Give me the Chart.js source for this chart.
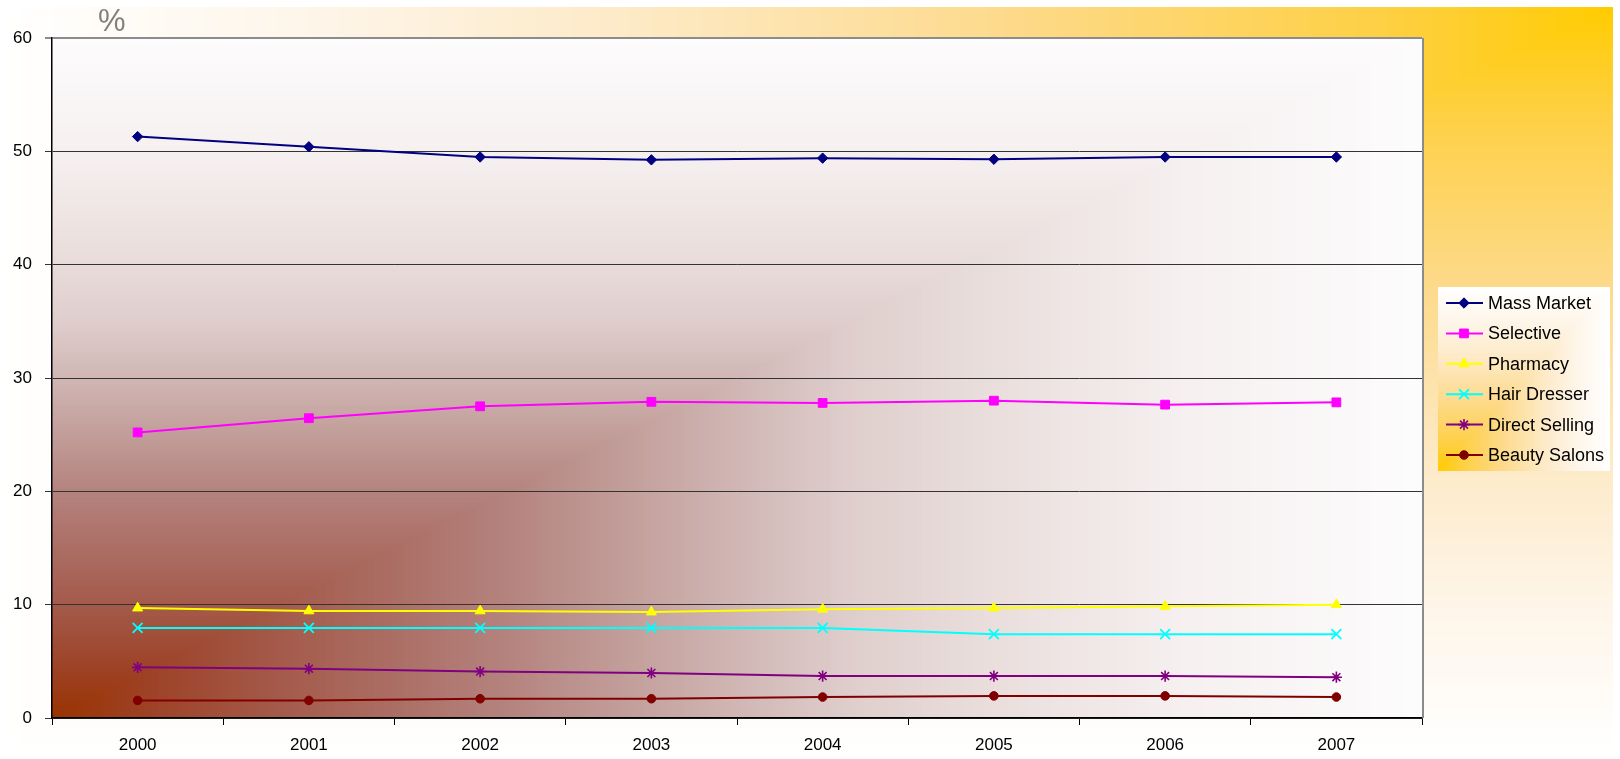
<!DOCTYPE html>
<html>
<head>
<meta charset="utf-8">
<script src="https://cdn.jsdelivr.net/npm/chart.js@4.4.0/dist/chart.umd.min.js"></script>
<style>
  html, body { margin: 0; padding: 0; background: #fff; }
  #wrap { width: 1620px; height: 759px; }
</style>
</head>
<body>
<div id="wrap"><canvas id="chart" width="1620" height="759"></canvas></div>
<script>
// Years (X axis)
const years = ["2000", "2001", "2002", "2003", "2004", "2005", "2006", "2007"];

// Share by distribution channel (%)
const massMarket    = [51.3, 50.4, 49.5, 49.25, 49.4, 49.3, 49.5, 49.5];
const selective     = [25.2, 26.45, 27.5, 27.9, 27.8, 28.0, 27.65, 27.85];
const pharmacy      = [9.7, 9.45, 9.45, 9.35, 9.6, 9.7, 9.85, 10.0];
const hairDresser   = [7.95, 7.95, 7.95, 7.95, 7.95, 7.4, 7.4, 7.4];
const directSelling = [4.47, 4.35, 4.1, 3.97, 3.7, 3.7, 3.7, 3.6];
const beautySalons  = [1.55, 1.55, 1.7, 1.7, 1.85, 1.95, 1.95, 1.85];

const seriesNames = ["Mass Market", "Selective", "Pharmacy", "Hair Dresser", "Direct Selling", "Beauty Salons"];
const yTicks = [0, 10, 20, 30, 40, 50, 60];

const FONT = '"Liberation Sans", Arial, sans-serif';

// colour stops for the "from corner" fills
const plotStops = [
  [0, [153, 51, 0]], [0.08, [158, 68, 42]], [0.165, [164, 90, 74]], [0.25, [171, 110, 100]],
  [0.33, [180, 130, 125]], [0.42, [194, 158, 154]], [0.5, [208, 182, 180]], [0.58, [222, 205, 203]],
  [0.67, [232, 220, 218]], [0.83, [246, 240, 240]], [1, [253, 252, 253]]
];
const outerStops = [
  [0, [255, 204, 0]], [0.15, [254, 208, 70]], [0.38, [253, 218, 140]],
  [0.62, [253, 234, 200]], [0.8, [254, 245, 232]], [1, [255, 255, 255]]
];

function colorAt(stops, t) {
  for (let i = 1; i < stops.length; i++) {
    if (t <= stops[i][0]) {
      const a = stops[i - 1], b = stops[i];
      const k = (t - a[0]) / (b[0] - a[0]);
      const c = a[1].map((v, j) => Math.round(v + (b[1][j] - v) * k));
      return `rgb(${c[0]},${c[1]},${c[2]})`;
    }
  }
  const l = stops[stops.length - 1][1];
  return `rgb(${l[0]},${l[1]},${l[2]})`;
}

// Excel style "from corner" gradient: colour depends on max(u, v) from the anchor corner
function cornerFill(ctx, x0, y0, w, h, anchor, stops) {
  const N = 400;
  for (let i = N; i >= 1; i--) {
    const t = i / N;
    ctx.fillStyle = colorAt(stops, t);
    const cw = t * w, ch = t * h;
    if (anchor === 'bl') ctx.fillRect(x0, y0 + h - ch, cw, ch);
    else ctx.fillRect(x0 + w - cw, y0, cw, ch);
  }
}

const backgroundPlugin = {
  id: 'background',
  beforeDraw(chart) {
    const ctx = chart.ctx;
    const a = chart.chartArea;
    ctx.save();
    ctx.fillStyle = '#fff';
    ctx.fillRect(0, 0, chart.width, chart.height);
    cornerFill(ctx, 0, 7, 1613, 745, 'tr', outerStops);
    cornerFill(ctx, a.left, a.top, a.right - a.left, a.bottom - a.top, 'bl', plotStops);
    ctx.restore();
  },
  afterDraw(chart) {
    const ctx = chart.ctx;
    const a = chart.chartArea;
    ctx.save();
    // plot border (right)
    ctx.strokeStyle = '#8c8c8c';
    ctx.lineWidth = 2;
    ctx.beginPath();
    ctx.moveTo(a.right + 1, a.top);
    ctx.lineTo(a.right + 1, a.bottom);
    ctx.stroke();

    // "%" label
    ctx.fillStyle = '#808080';
    ctx.font = '31px ' + FONT;
    ctx.textBaseline = 'alphabetic';
    ctx.textAlign = 'left';
    ctx.fillText('%', 98, 31);

    // legend
    const lx = 1438, ly = 287, lw = 172, lh = 184;
    cornerFill(ctx, lx, ly, lw, lh, 'bl', outerStops);
    ctx.font = '18px ' + FONT;
    ctx.textBaseline = 'middle';
    chart.data.datasets.forEach((ds, i) => {
      const y = 303 + i * 30.4;
      ctx.strokeStyle = ds.borderColor;
      ctx.lineWidth = 2;
      ctx.beginPath();
      ctx.moveTo(1446, y);
      ctx.lineTo(1483, y);
      ctx.stroke();
      ctx.fillStyle = ds.backgroundColor;
      ctx.strokeStyle = ds.borderColor;
      ctx.lineWidth = ds.pointBorderWidth;
      if (Chart.helpers && Chart.helpers.drawPoint) {
        Chart.helpers.drawPoint(ctx, {
          pointStyle: ds.pointStyle, rotation: 0,
          radius: ds.pointRadius, borderWidth: ds.pointBorderWidth
        }, 1464, y);
      }
      ctx.fillStyle = '#000';
      ctx.fillText(ds.label, 1488, y + 1);
    });
    ctx.restore();
  }
};

function makeSet(label, data, color, style, radius, bw) {
  return {
    label: label,
    data: data,
    borderColor: color,
    backgroundColor: color,
    borderWidth: 2,
    pointStyle: style,
    pointRadius: radius,
    pointHoverRadius: radius,
    pointBorderWidth: bw,
    pointBorderColor: color,
    pointBackgroundColor: color,
    tension: 0,
    fill: false
  };
}

const ctx = document.getElementById('chart').getContext('2d');
new Chart(ctx, {
  type: 'line',
  data: {
    labels: years,
    datasets: [
      makeSet(seriesNames[0], massMarket, '#000080', 'rectRot', 5.2, 1),
      makeSet(seriesNames[1], selective, '#FF00FF', 'rect', 6.2, 1),
      makeSet(seriesNames[2], pharmacy, '#FFFF00', 'triangle', 5.8, 1),
      makeSet(seriesNames[3], hairDresser, '#00FFFF', 'crossRot', 7, 1.8),
      makeSet(seriesNames[4], directSelling, '#800080', 'star', 5.6, 1.6),
      makeSet(seriesNames[5], beautySalons, '#800000', 'circle', 4.3, 1)
    ]
  },
  options: {
    responsive: false,
    animation: false,
    devicePixelRatio: 1,
    layout: { padding: { left: 0, top: 38, right: 198, bottom: 0 } },
    plugins: {
      legend: { display: false },
      tooltip: { enabled: false }
    },
    scales: {
      x: {
        offset: true,
        afterFit: (s) => { s.height = 41; },
        grid: {
          offset: true,
          drawOnChartArea: false,
          drawTicks: true,
          tickLength: 7,
          color: '#000',
          lineWidth: 1
        },
        border: { color: '#000', width: 1.5 },
        ticks: {
          color: '#000',
          padding: 10,
          font: { family: FONT, size: 17 },
          maxRotation: 0
        }
      },
      y: {
        min: yTicks[0],
        max: yTicks[yTicks.length - 1],
        afterFit: (s) => { s.width = 52; },
        afterBuildTicks: (s) => { s.ticks = yTicks.map(v => ({ value: v })); },
        grid: {
          drawTicks: true,
          tickLength: 7,
          color: (c) => (c.tick && c.tick.value === 60 ? '#8c8c8c' : '#333'),
          lineWidth: (c) => (c.tick && c.tick.value === 60 ? 2 : 1)
        },
        border: { color: '#000', width: 1.5 },
        ticks: {
          color: '#000',
          padding: 13,
          font: { family: FONT, size: 17 }
        }
      }
    }
  },
  plugins: [backgroundPlugin]
});
</script>
</body>
</html>
